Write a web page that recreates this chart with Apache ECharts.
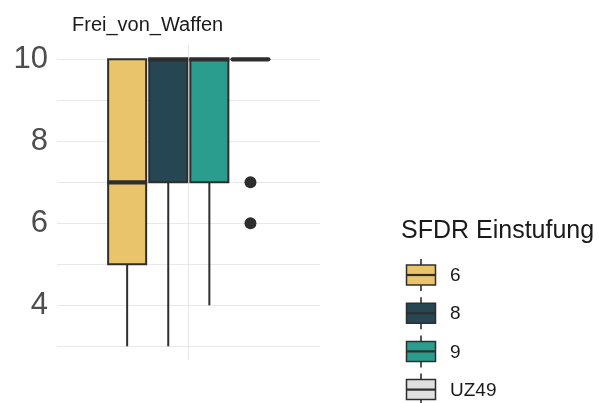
<!DOCTYPE html>
<html><head><meta charset="utf-8">
<script src="https://cdn.jsdelivr.net/npm/echarts@6/dist/echarts.min.js"></script>
<style>html,body{margin:0;padding:0;background:#fff}#c{width:601px;height:403px}</style>
</head><body><div id="c"></div>
<script>
const title = 'Frei_von_Waffen';
const legendTitle = 'SFDR Einstufung';
const groups = ['6', '8', '9', 'UZ49'];
const colors = ['#E9C46A', '#264653', '#2A9D8F', '#E0E0E0'];
const mins = [3, 3, 4, 10];
const q1s = [5, 7, 7, 10];
const medians = [7, 10, 10, 10];
const q3s = [10, 10, 10, 10];
const maxs = [10, 10, 10, 10];
const outlierGroups = ['UZ49', 'UZ49'];
const outlierValues = [7, 6];
const yTicks = [4, 6, 8, 10];

const FONT = '"Liberation Sans", Arial, sans-serif';
const INK = '#2E2E2E';
const GRID = '#E8E8E8';

const boxData = groups.map((g, i) => [i, mins[i], q1s[i], medians[i], q3s[i], maxs[i]]);

function renderBox(params, api) {
  const i = params.dataIndex;
  const x = api.value(0);
  const bw = api.size([1, 0])[0] * 0.925;
  const pMin = api.coord([x, api.value(1)]);
  const pQ1 = api.coord([x, api.value(2)]);
  const pMed = api.coord([x, api.value(3)]);
  const pQ3 = api.coord([x, api.value(4)]);
  const pMax = api.coord([x, api.value(5)]);
  const cx = pMed[0];
  const lw = 2;
  const flat = Math.abs(pQ1[1] - pQ3[1]) < 0.5;
  const ch = [];
  ch.push({type: 'line', shape: {x1: cx, y1: pQ1[1], x2: cx, y2: pMin[1]}, style: {stroke: INK, lineWidth: lw}});
  ch.push({type: 'line', shape: {x1: cx, y1: pQ3[1], x2: cx, y2: pMax[1]}, style: {stroke: INK, lineWidth: lw}});
  ch.push({type: 'rect', shape: {x: cx - bw / 2, y: pQ3[1], width: bw, height: pQ1[1] - pQ3[1]},
    style: {fill: colors[i], stroke: INK, lineWidth: lw}});
  ch.push({type: 'line', shape: {x1: cx - bw / 2 + (flat ? 1 : -1), y1: pMed[1], x2: cx + bw / 2 - (flat ? 1 : -1), y2: pMed[1]},
    style: {stroke: INK, lineWidth: 4.2, lineCap: flat ? 'round' : 'butt'}});
  return {type: 'group', children: ch};
}

const legendGraphics = [];
legendGraphics.push({type: 'text', left: 401, top: 219,
  style: {text: legendTitle, font: '25px ' + FONT, fill: '#1a1a1a'}});
const keyTop = 275, keyStep = 38.2;
groups.forEach((g, i) => {
  const cy = keyTop + i * keyStep;
  legendGraphics.push({type: 'line', shape: {x1: 421, y1: cy - 16, x2: 421, y2: cy + 16}, style: {stroke: INK, lineWidth: 1.6}});
  legendGraphics.push({type: 'rect', shape: {x: 406.5, y: cy - 10, width: 29, height: 20}, style: {fill: colors[i], stroke: INK, lineWidth: 1.5}});
  legendGraphics.push({type: 'line', shape: {x1: 406.5, y1: cy, x2: 435.5, y2: cy}, style: {stroke: INK, lineWidth: 2.2}});
  legendGraphics.push({type: 'text', x: 450, y: cy + 1,
    style: {text: g, font: '19px ' + FONT, fill: '#1a1a1a', textVerticalAlign: 'middle'}});
});

const chart = echarts.init(document.getElementById('c'), null, {renderer: 'canvas'});
chart.setOption({
  animation: false,
  backgroundColor: '#fff',
  title: {text: title, left: 67, top: 10, textStyle: {fontFamily: FONT, fontSize: 20, fontWeight: 'normal', color: '#1a1a1a'}},
  grid: [
    {left: 57, top: 59.3, width: 263, height: 287},
    {left: 57, top: 45, width: 263, height: 315},
    {left: 106.6, top: 59.3, width: 164.4, height: 287}
  ],
  xAxis: [
    {gridIndex: 0, type: 'value', min: 0, max: 2, show: false},
    {gridIndex: 1, type: 'value', min: 0, max: 2, interval: 1,
      axisLine: {show: false}, axisTick: {show: false}, axisLabel: {show: false},
      splitLine: {show: true, showMinLine: false, showMaxLine: false, lineStyle: {color: GRID, width: 1}}},
    {gridIndex: 2, type: 'category', data: groups, show: false}
  ],
  yAxis: [
    {gridIndex: 0, type: 'value', min: 3, max: 10, interval: 1,
      axisLine: {show: false}, axisTick: {show: false},
      axisLabel: {margin: 9, fontSize: 31, fontFamily: FONT, color: '#4D4D4D',
        formatter: v => (yTicks.indexOf(v) >= 0 ? String(v) : '')},
      splitLine: {show: true, lineStyle: {color: GRID, width: 1}}},
    {gridIndex: 1, type: 'value', min: 0, max: 1, show: false, splitLine: {show: false}},
    {gridIndex: 2, type: 'value', min: 3, max: 10, show: false, splitLine: {show: false}}
  ],
  series: [
    {type: 'custom', xAxisIndex: 2, yAxisIndex: 2, data: boxData, renderItem: renderBox,
      encode: {x: 0, y: [1, 2, 3, 4, 5]}, clip: false},
    {type: 'scatter', xAxisIndex: 2, yAxisIndex: 2, symbolSize: 12,
      itemStyle: {color: INK, opacity: 1}, data: outlierGroups.map((g, k) => [g, outlierValues[k]])}
  ],
  graphic: legendGraphics
});
</script></body></html>
